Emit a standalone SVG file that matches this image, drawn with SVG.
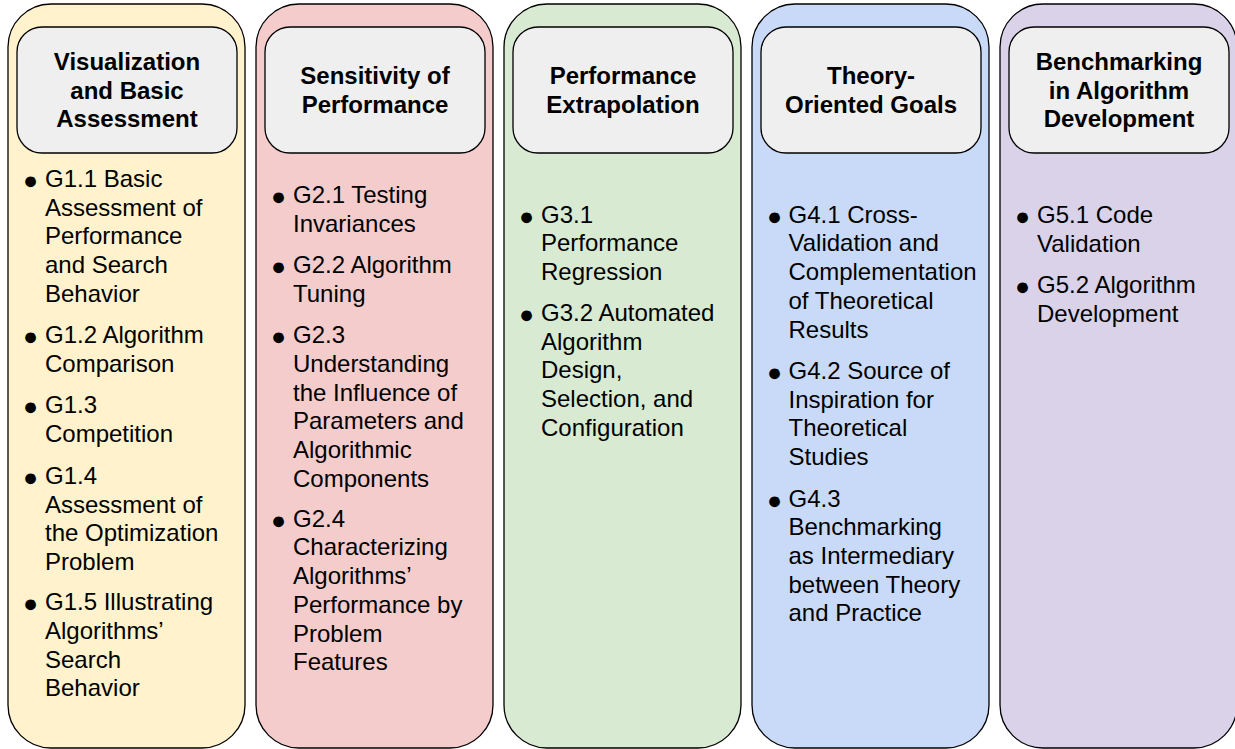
<svg xmlns="http://www.w3.org/2000/svg" width="1235" height="749" viewBox="0 0 1235 749">
<style>
.col{stroke:#000;stroke-width:1.3}
.hdr{fill:#efefef;stroke:#000;stroke-width:1.3}
.ht{font-family:"Liberation Sans",Arial,sans-serif;font-size:24px;font-weight:bold;fill:#000;text-anchor:middle}
.bt{font-family:"Liberation Sans",Arial,sans-serif;font-size:24px;fill:#000}
.bl{font-family:"Liberation Sans",Arial,sans-serif;font-size:25px;fill:#000}
</style>
<rect width="1235" height="749" fill="#fff"/>
<g id="connectors"></g>
<g id="col1">
<rect class="col" x="8" y="4" width="237" height="744" rx="43" fill="#fff2cc"/>
<rect class="hdr" x="17" y="27" width="220" height="126" rx="25"/>
<text class="ht"><tspan x="127" y="70">Visualization</tspan><tspan x="127" y="98.7">and Basic</tspan><tspan x="127" y="127.4">Assessment</tspan></text>
<text class="bl"><tspan x="23" y="189">●</tspan><tspan x="23" y="345.3">●</tspan><tspan x="23" y="415.3">●</tspan><tspan x="23" y="486">●</tspan><tspan x="23" y="612.3">●</tspan></text>
<text class="bt"><tspan x="45" y="187">G1.1 Basic</tspan><tspan x="45" y="215.7">Assessment of</tspan><tspan x="45" y="244.4">Performance</tspan><tspan x="45" y="273.1">and Search</tspan><tspan x="45" y="301.8">Behavior</tspan><tspan x="45" y="343.3">G1.2 Algorithm</tspan><tspan x="45" y="372">Comparison</tspan><tspan x="45" y="413.3">G1.3</tspan><tspan x="45" y="442">Competition</tspan><tspan x="45" y="484">G1.4</tspan><tspan x="45" y="512.7">Assessment of</tspan><tspan x="45" y="541.4">the Optimization</tspan><tspan x="45" y="570">Problem</tspan><tspan x="45" y="610.3">G1.5 Illustrating</tspan><tspan x="45" y="639">Algorithms’</tspan><tspan x="45" y="667.7">Search</tspan><tspan x="45" y="696.4">Behavior</tspan></text>
</g>
<g id="col2">
<rect class="col" x="256" y="4" width="237" height="744" rx="43" fill="#f4cccc"/>
<rect class="hdr" x="265" y="27" width="220" height="126" rx="25"/>
<text class="ht"><tspan x="375" y="84.3">Sensitivity of</tspan><tspan x="375" y="113">Performance</tspan></text>
<text class="bl"><tspan x="271" y="205.3">●</tspan><tspan x="271" y="275.3">●</tspan><tspan x="271" y="345.3">●</tspan><tspan x="271" y="528.7">●</tspan></text>
<text class="bt"><tspan x="293" y="203.3">G2.1 Testing</tspan><tspan x="293" y="232">Invariances</tspan><tspan x="293" y="273.3">G2.2 Algorithm</tspan><tspan x="293" y="302">Tuning</tspan><tspan x="293" y="343.3">G2.3</tspan><tspan x="293" y="372">Understanding</tspan><tspan x="293" y="400.7">the Influence of</tspan><tspan x="293" y="429.4">Parameters and</tspan><tspan x="293" y="458.1">Algorithmic</tspan><tspan x="293" y="486.8">Components</tspan><tspan x="293" y="526.7">G2.4</tspan><tspan x="293" y="555.4">Characterizing</tspan><tspan x="293" y="584.1">Algorithms’</tspan><tspan x="293" y="612.8">Performance by</tspan><tspan x="293" y="641.5">Problem</tspan><tspan x="293" y="670.2">Features</tspan></text>
</g>
<g id="col3">
<rect class="col" x="504" y="4" width="237" height="744" rx="43" fill="#d9ead3"/>
<rect class="hdr" x="513" y="27" width="220" height="126" rx="25"/>
<text class="ht"><tspan x="623" y="84.3">Performance</tspan><tspan x="623" y="113">Extrapolation</tspan></text>
<text class="bl"><tspan x="519" y="224.7">●</tspan><tspan x="519" y="323">●</tspan></text>
<text class="bt"><tspan x="541" y="222.7">G3.1</tspan><tspan x="541" y="251.4">Performance</tspan><tspan x="541" y="280.1">Regression</tspan><tspan x="541" y="321">G3.2 Automated</tspan><tspan x="541" y="349.7">Algorithm</tspan><tspan x="541" y="378.4">Design,</tspan><tspan x="541" y="407.1">Selection, and</tspan><tspan x="541" y="435.8">Configuration</tspan></text>
</g>
<g id="col4">
<rect class="col" x="752" y="4" width="237" height="744" rx="43" fill="#c9daf8"/>
<rect class="hdr" x="761" y="27" width="220" height="126" rx="25"/>
<text class="ht"><tspan x="871" y="84.3">Theory-</tspan><tspan x="871" y="113">Oriented Goals</tspan></text>
<text class="bl"><tspan x="767" y="224.7">●</tspan><tspan x="767" y="381">●</tspan><tspan x="767" y="508.5">●</tspan></text>
<text class="bt"><tspan x="788.5" y="222.7">G4.1 Cross-</tspan><tspan x="788.5" y="251.4">Validation and</tspan><tspan x="788.5" y="280.1">Complementation</tspan><tspan x="788.5" y="308.8">of Theoretical</tspan><tspan x="788.5" y="337.5">Results</tspan><tspan x="788.5" y="379">G4.2 Source of</tspan><tspan x="788.5" y="407.7">Inspiration for</tspan><tspan x="788.5" y="436.4">Theoretical</tspan><tspan x="788.5" y="465.1">Studies</tspan><tspan x="788.5" y="506.5">G4.3</tspan><tspan x="788.5" y="535.2">Benchmarking</tspan><tspan x="788.5" y="563.9">as Intermediary</tspan><tspan x="788.5" y="592.6">between Theory</tspan><tspan x="788.5" y="621.3">and Practice</tspan></text>
</g>
<g id="col5">
<rect class="col" x="1000" y="4" width="237" height="744" rx="43" fill="#d9d2e9"/>
<rect class="hdr" x="1009" y="27" width="220" height="126" rx="25"/>
<text class="ht"><tspan x="1119" y="70">Benchmarking</tspan><tspan x="1119" y="98.7">in Algorithm</tspan><tspan x="1119" y="127.4">Development</tspan></text>
<text class="bl"><tspan x="1015" y="225">●</tspan><tspan x="1015" y="295">●</tspan></text>
<text class="bt"><tspan x="1037" y="223">G5.1 Code</tspan><tspan x="1037" y="251.7">Validation</tspan><tspan x="1037" y="293">G5.2 Algorithm</tspan><tspan x="1037" y="321.7">Development</tspan></text>
</g>
</svg>
